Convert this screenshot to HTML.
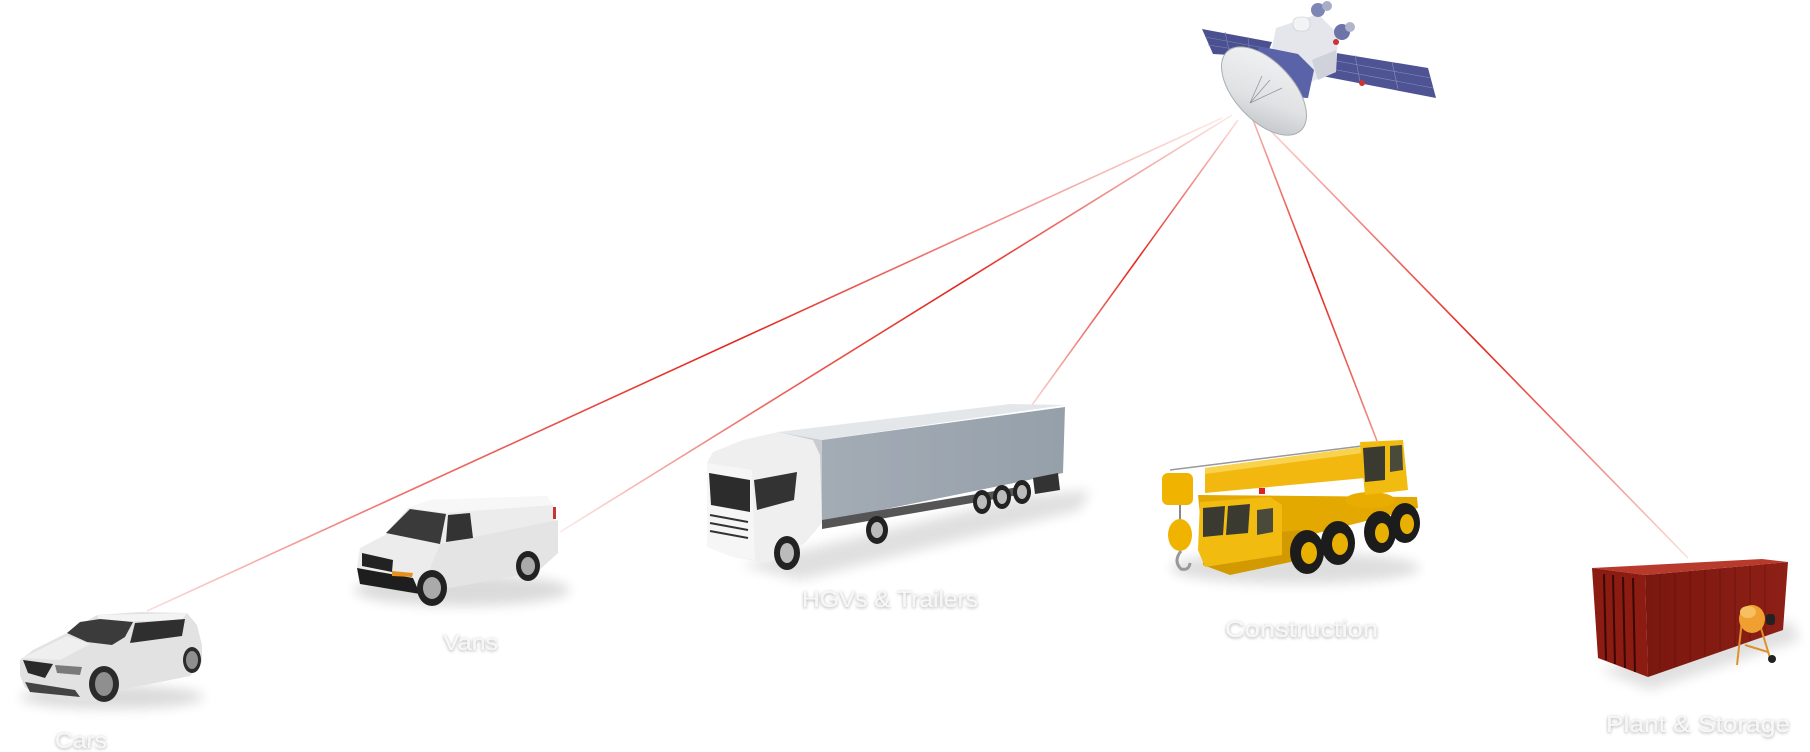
<!DOCTYPE html>
<html><head><meta charset="utf-8"><style>
html,body{margin:0;padding:0;background:#fff;}
svg{display:block;}
</style></head><body>
<svg width="1810" height="752" viewBox="0 0 1810 752" xmlns="http://www.w3.org/2000/svg">
<defs>
<filter id="blur6" x="-50%" y="-50%" width="200%" height="200%"><feGaussianBlur stdDeviation="6"/></filter>
<filter id="blur3" x="-50%" y="-50%" width="200%" height="200%"><feGaussianBlur stdDeviation="3"/></filter>
<filter id="ts" x="-10%" y="-40%" width="120%" height="180%"><feDropShadow dx="0" dy="1" stdDeviation="1.6" flood-color="#000" flood-opacity="0.35"/></filter>
<linearGradient id="g1" gradientUnits="userSpaceOnUse" x1="1222" y1="118" x2="147" y2="611"><stop offset="0" stop-color="#e3261c" stop-opacity="0.1"/><stop offset="0.45" stop-color="#e3261c" stop-opacity="1"/><stop offset="0.8" stop-color="#e3261c" stop-opacity="0.6"/><stop offset="1" stop-color="#e3261c" stop-opacity="0.15"/></linearGradient>
<linearGradient id="g2" gradientUnits="userSpaceOnUse" x1="1232" y1="115" x2="560" y2="532"><stop offset="0" stop-color="#e3261c" stop-opacity="0.1"/><stop offset="0.4" stop-color="#e3261c" stop-opacity="1"/><stop offset="0.7" stop-color="#e3261c" stop-opacity="0.7"/><stop offset="1" stop-color="#e3261c" stop-opacity="0.1"/></linearGradient>
<linearGradient id="g3" gradientUnits="userSpaceOnUse" x1="1238" y1="120" x2="1032" y2="405"><stop offset="0" stop-color="#e3261c" stop-opacity="0.15"/><stop offset="0.5" stop-color="#e3261c" stop-opacity="1"/><stop offset="1" stop-color="#e3261c" stop-opacity="0.2"/></linearGradient>
<linearGradient id="g4" gradientUnits="userSpaceOnUse" x1="1250" y1="112" x2="1377" y2="441"><stop offset="0" stop-color="#e3261c" stop-opacity="0.3"/><stop offset="0.5" stop-color="#e3261c" stop-opacity="1"/><stop offset="1" stop-color="#e3261c" stop-opacity="0.5"/></linearGradient>
<linearGradient id="g5" gradientUnits="userSpaceOnUse" x1="1268" y1="128" x2="1688" y2="558"><stop offset="0" stop-color="#e3261c" stop-opacity="0.2"/><stop offset="0.5" stop-color="#e3261c" stop-opacity="1"/><stop offset="1" stop-color="#e3261c" stop-opacity="0.15"/></linearGradient>
<linearGradient id="dish" x1="0" y1="0" x2="1" y2="1"><stop offset="0" stop-color="#f4f5f6"/><stop offset="0.6" stop-color="#dfe1e3"/><stop offset="1" stop-color="#b9bdc1"/></linearGradient>
<linearGradient id="trl" x1="0" y1="0" x2="1" y2="0"><stop offset="0" stop-color="#a3acb5"/><stop offset="1" stop-color="#96a0aa"/></linearGradient>
<linearGradient id="cont" x1="0" y1="0" x2="1" y2="0"><stop offset="0" stop-color="#7a170f"/><stop offset="1" stop-color="#8e2016"/></linearGradient>
</defs>

<!-- signal lines -->
<g stroke-width="1.6" fill="none">
<line x1="1222" y1="118" x2="147" y2="611" stroke="url(#g1)"/>
<line x1="1232" y1="115" x2="560" y2="532" stroke="url(#g2)"/>
<line x1="1238" y1="120" x2="1032" y2="405" stroke="url(#g3)"/>
<line x1="1250" y1="112" x2="1377" y2="441" stroke="url(#g4)"/>
<line x1="1268" y1="128" x2="1688" y2="558" stroke="url(#g5)"/>
</g>

<!-- satellite -->
<g>
<polygon points="1202,29 1272,42 1266,57 1213,54" fill="#4b5190"/>
<g stroke="#7d83b8" stroke-width="0.6"><line x1="1205" y1="37" x2="1269" y2="49"/><line x1="1208" y1="45" x2="1267" y2="54"/><line x1="1225" y1="32" x2="1230" y2="55"/><line x1="1248" y1="37" x2="1250" y2="56"/></g>
<polygon points="1318,50 1428,68 1436,98 1322,76" fill="#4d5393"/>
<g stroke="#8a90c0" stroke-width="0.6"><line x1="1320" y1="58" x2="1431" y2="78"/><line x1="1321" y1="67" x2="1433" y2="88"/><line x1="1355" y1="55" x2="1360" y2="82"/><line x1="1392" y1="62" x2="1398" y2="89"/></g>
<polygon points="1276,28 1318,14 1338,34 1336,72 1310,82 1300,66 1272,48" fill="#e4e6ec"/>
<polygon points="1312,60 1336,50 1336,72 1318,80" fill="#cfd2da"/>
<polygon points="1258,46 1298,54 1314,70 1308,98 1290,97 1260,82" fill="#5a62a8"/>
<rect x="1293" y="17" width="17" height="14" rx="6" fill="#f2f3f5" stroke="#c8cad0" stroke-width="0.6"/>
<circle cx="1318" cy="10" r="7" fill="#7d86b5"/>
<circle cx="1327" cy="6" r="5" fill="#a9aec8"/>
<circle cx="1342" cy="32" r="8" fill="#6c74aa"/>
<circle cx="1350" cy="27" r="5" fill="#b0b5cc"/>
<circle cx="1336" cy="42" r="3" fill="#c33"/>
<circle cx="1362" cy="83" r="3" fill="#c33"/>
<ellipse cx="1264" cy="91" rx="54" ry="29" transform="rotate(47 1264 91)" fill="url(#dish)" stroke="#a9adb2" stroke-width="1"/>
<g stroke="#8d9196" stroke-width="0.7" fill="none"><line x1="1250" y1="103" x2="1270" y2="80"/><line x1="1250" y1="103" x2="1282" y2="88"/><line x1="1250" y1="103" x2="1262" y2="76"/></g>
</g>

<!-- car -->
<g>
<ellipse cx="112" cy="697" rx="92" ry="12" fill="#000" opacity="0.14" filter="url(#blur6)"/>
<polygon points="20,660 33,650 67,633 97,615 140,612 187,613 197,625 202,645 202,662 190,676 150,684 120,690 95,702 60,700 25,688 20,675" fill="#e2e2e2"/>
<polygon points="97,615 187,613 182,620 100,622" fill="#f3f3f3"/>
<polygon points="22,658 67,636 90,644 60,660" fill="#efefef"/>
<polygon points="67,633 80,622 100,619 133,622 125,637 112,645 87,642" fill="#3b3b3b"/>
<polygon points="135,623 185,619 182,636 130,643" fill="#2f2f2f"/>
<polygon points="23,660 53,664 45,678 28,673" fill="#2a2a2a"/>
<polygon points="55,665 82,667 80,675 57,673" fill="#7a7a7a"/>
<polygon points="25,682 75,690 80,697 30,692" fill="#444"/>
<ellipse cx="104" cy="684" rx="15" ry="18" fill="#2b2b2b"/>
<ellipse cx="104" cy="684" rx="9" ry="12" fill="#8f8f8f"/>
<ellipse cx="192" cy="660" rx="9" ry="13" fill="#2b2b2b"/>
<ellipse cx="192" cy="660" rx="6" ry="9" fill="#8f8f8f"/>
</g>

<!-- van -->
<g>
<ellipse cx="462" cy="590" rx="108" ry="16" fill="#000" opacity="0.14" filter="url(#blur6)"/>
<polygon points="357,567 360,548 385,535 408,508 430,500 547,496 553,505 558,553 537,572 420,593 360,583" fill="#ececec"/>
<polygon points="408,508 430,500 547,496 553,505 445,513" fill="#f7f7f7"/>
<polygon points="440,544 558,520 558,553 537,572 420,593" fill="#e4e4e4"/>
<polygon points="386,533 410,509 446,514 440,544" fill="#3a3a3a"/>
<polygon points="448,515 470,513 473,538 446,542" fill="#333"/>
<polygon points="362,553 393,560 392,572 362,566" fill="#222"/>
<polygon points="357,568 413,578 420,594 360,584" fill="#1e1e1e"/>
<polygon points="392,571 413,573 412,577 392,576" fill="#e8901c"/>
<rect x="553" y="507" width="3" height="12" fill="#c33"/>
<ellipse cx="432" cy="588" rx="15" ry="18" fill="#222"/>
<ellipse cx="432" cy="588" rx="9" ry="11" fill="#aaa"/>
<ellipse cx="528" cy="566" rx="12" ry="15" fill="#222"/>
<ellipse cx="528" cy="566" rx="7" ry="9" fill="#aaa"/>
</g>

<!-- truck -->
<g>
<polygon points="740,565 1030,495 1090,490 1080,510 800,580" fill="#000" opacity="0.12" filter="url(#blur6)"/>
<polygon points="822,440 1065,407 1063,473 822,522" fill="url(#trl)"/>
<polygon points="778,432 1010,404 1065,405 822,440" fill="#e4e7ea"/>
<polygon points="778,432 822,440 822,522 800,520" fill="#c8ccd0"/>
<polygon points="822,520 1030,485 1030,493 822,529" fill="#555"/>
<polygon points="1033,478 1058,473 1060,490 1035,494" fill="#333"/>
<polygon points="707,463 713,452 743,440 778,432 813,440 820,455 822,523 805,543 767,563 733,557 707,547" fill="#efefef"/>
<polygon points="707,463 752,470 755,560 733,557 707,547" fill="#f6f6f6"/>
<polygon points="709,473 750,480 750,512 711,505" fill="#2c2c2c"/>
<polygon points="754,480 797,472 794,500 757,510" fill="#333"/>
<g stroke="#333" stroke-width="2"><line x1="710" y1="515" x2="748" y2="522"/><line x1="710" y1="523" x2="748" y2="530"/><line x1="710" y1="531" x2="748" y2="538"/></g>
<ellipse cx="787" cy="553" rx="13" ry="17" fill="#222"/>
<ellipse cx="787" cy="553" rx="7" ry="10" fill="#bbb"/>
<ellipse cx="877" cy="530" rx="11" ry="14" fill="#222"/>
<ellipse cx="877" cy="530" rx="6" ry="8" fill="#bbb"/>
<ellipse cx="982" cy="502" rx="9" ry="12" fill="#222"/>
<ellipse cx="982" cy="502" rx="5" ry="7" fill="#bbb"/>
<ellipse cx="1002" cy="497" rx="9" ry="12" fill="#222"/>
<ellipse cx="1002" cy="497" rx="5" ry="7" fill="#bbb"/>
<ellipse cx="1022" cy="492" rx="9" ry="12" fill="#222"/>
<ellipse cx="1022" cy="492" rx="5" ry="7" fill="#bbb"/>
</g>

<!-- crane -->
<g>
<ellipse cx="1295" cy="568" rx="125" ry="16" fill="#000" opacity="0.13" filter="url(#blur6)"/>
<line x1="1170" y1="470" x2="1370" y2="445" stroke="#999" stroke-width="1.5"/>
<polygon points="1205,468 1363,447 1365,478 1205,493" fill="#f2b80f"/>
<polygon points="1205,468 1363,447 1363,453 1205,474" fill="#f9d24e"/>
<polygon points="1198,495 1417,497 1418,508 1290,540 1203,545" fill="#e3a900"/>
<polygon points="1203,540 1300,530 1300,560 1230,575 1203,565" fill="#d29a00"/>
<polygon points="1200,502 1270,497 1282,505 1282,555 1205,567 1198,550" fill="#f2bb10"/>
<polygon points="1203,508 1225,506 1223,535 1203,537" fill="#3a3a30"/>
<polygon points="1228,506 1250,504 1248,533 1226,535" fill="#3a3a30"/>
<polygon points="1257,510 1273,508 1273,532 1257,535" fill="#4a4a3a"/>
<ellipse cx="1370" cy="500" rx="25" ry="8" fill="#e8ad00"/>
<polygon points="1360,442 1403,440 1408,490 1365,495" fill="#f2bb10"/>
<polygon points="1363,448 1385,446 1385,480 1365,482" fill="#3a3a30"/>
<polygon points="1390,446 1402,445 1403,470 1390,472" fill="#4a4a3a"/>
<rect x="1162" y="473" width="31" height="32" rx="6" fill="#f0b400"/>
<line x1="1180" y1="505" x2="1180" y2="520" stroke="#888" stroke-width="2"/>
<ellipse cx="1180" cy="535" rx="12" ry="16" fill="#f0b400"/>
<path d="M1181,551 q-8,10 0,18 q8,2 9,-6" fill="none" stroke="#999" stroke-width="3"/>
<rect x="1259" y="488" width="6" height="6" fill="#d22"/>
<g fill="#1c1c1c"><ellipse cx="1307" cy="552" rx="17" ry="22"/><ellipse cx="1338" cy="543" rx="17" ry="22"/><ellipse cx="1380" cy="532" rx="16" ry="21"/><ellipse cx="1405" cy="523" rx="15" ry="20"/></g>
<g fill="#e8b000"><ellipse cx="1309" cy="553" rx="8" ry="11"/><ellipse cx="1340" cy="544" rx="8" ry="11"/><ellipse cx="1382" cy="533" rx="7" ry="10"/><ellipse cx="1407" cy="524" rx="7" ry="10"/></g>
</g>

<!-- container -->
<g>
<polygon points="1600,670 1790,620 1800,640 1650,690" fill="#000" opacity="0.12" filter="url(#blur6)"/>
<polygon points="1645,575 1788,562 1783,630 1648,677" fill="url(#cont)"/>
<g stroke="#5e100a" stroke-width="1" opacity="0.6"><line x1="1660" y1="574" x2="1660" y2="672"/><line x1="1675" y1="572" x2="1675" y2="667"/><line x1="1690" y1="571" x2="1690" y2="662"/><line x1="1705" y1="570" x2="1705" y2="657"/><line x1="1720" y1="568" x2="1720" y2="651"/><line x1="1735" y1="567" x2="1735" y2="646"/><line x1="1750" y1="566" x2="1750" y2="641"/><line x1="1765" y1="564" x2="1765" y2="636"/></g>
<polygon points="1592,568 1762,559 1788,562 1645,575" fill="#b83a2c"/>
<polygon points="1592,568 1645,575 1648,677 1598,658" fill="#8c1b12"/>
<g stroke="#3a0805" stroke-width="2"><line x1="1604" y1="574" x2="1606" y2="660"/><line x1="1613" y1="575" x2="1615" y2="664"/><line x1="1623" y1="577" x2="1625" y2="668"/><line x1="1633" y1="578" x2="1635" y2="672"/></g>
<g stroke="#e0902a" stroke-width="2"><line x1="1742" y1="620" x2="1737" y2="665"/><line x1="1760" y1="625" x2="1770" y2="658"/><line x1="1745" y1="645" x2="1768" y2="652"/></g>
<ellipse cx="1752" cy="619" rx="13" ry="14" fill="#f0a030"/>
<ellipse cx="1748" cy="612" rx="8" ry="6" fill="#f6c060"/>
<rect x="1766" y="614" width="9" height="11" rx="3" fill="#222"/>
<circle cx="1772" cy="659" r="4" fill="#222"/>
</g>

<!-- labels -->
<g font-family="Liberation Sans, sans-serif" fill="#f7f7f7" filter="url(#ts)">
<text x="55" y="748" font-size="22" textLength="52" lengthAdjust="spacingAndGlyphs">Cars</text>
<text x="443" y="650" font-size="22" textLength="55" lengthAdjust="spacingAndGlyphs">Vans</text>
<text x="802" y="607" font-size="23" textLength="176" lengthAdjust="spacingAndGlyphs">HGVs &amp; Trailers</text>
<text x="1225" y="637" font-size="23" textLength="153" lengthAdjust="spacingAndGlyphs">Construction</text>
<text x="1606" y="732" font-size="23" textLength="184" lengthAdjust="spacingAndGlyphs">Plant &amp; Storage</text>
</g>
</svg>
</body></html>
